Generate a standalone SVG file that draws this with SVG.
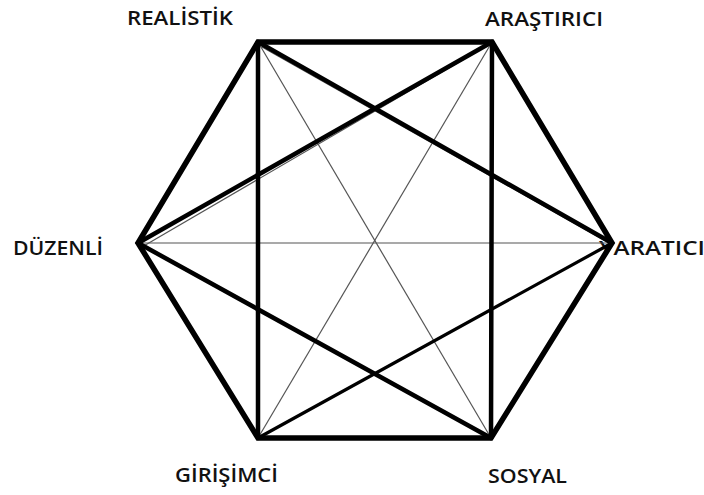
<svg xmlns="http://www.w3.org/2000/svg" width="704" height="495" viewBox="0 0 704 495">
<style>
.lbl{font-family:"Open Sans","Liberation Sans",sans-serif;font-size:20px;font-weight:600;fill:#111}
.hex{stroke:#000;stroke-width:5.5;stroke-linecap:round;fill:none}
.thk{stroke:#000;stroke-width:4.5;stroke-linecap:round}
.med{stroke:#000;stroke-width:3.2;stroke-linecap:round}
.thn{stroke:#555;stroke-width:1.2}
</style>
<rect width="704" height="495" fill="#fff"/>
<g id="realistik"><text class="lbl" x="127" y="25" textLength="106" lengthAdjust="spacingAndGlyphs">REALİSTİK</text></g>
<g id="arastirici"><text class="lbl" x="485" y="26" textLength="118" lengthAdjust="spacingAndGlyphs">ARAŞTIRICI</text></g>
<g id="duzenli"><text class="lbl" x="13" y="255" textLength="90" lengthAdjust="spacingAndGlyphs">DÜZENLİ</text></g>
<g id="yaratici"><text class="lbl" x="599" y="255" textLength="106" lengthAdjust="spacingAndGlyphs">YARATICI</text></g>
<g id="girisimci"><text class="lbl" x="175" y="482" textLength="103" lengthAdjust="spacingAndGlyphs">GİRİŞİMCİ</text></g>
<g id="sosyal"><text class="lbl" x="488" y="483" textLength="79" lengthAdjust="spacingAndGlyphs">SOSYAL</text></g>
<g id="connectors">
<line class="thn" x1="138" y1="243" x2="612" y2="243"/>
<line class="thn" x1="258" y1="42" x2="491" y2="438"/>
<line class="thn" x1="492" y1="42" x2="258" y2="438"/>
<line class="thn" x1="262" y1="47" x2="611" y2="244"/>
<line class="thn" x1="490" y1="44" x2="142" y2="247"/>
<line class="thk" x1="258" y1="42" x2="612" y2="243"/>
<line class="thk" x1="492" y1="42" x2="138" y2="243"/>
<line class="thk" x1="138" y1="243" x2="491" y2="438"/>
<line class="med" x1="258" y1="438" x2="612" y2="243"/>
<line class="thk" x1="258" y1="42" x2="258" y2="438"/>
<line class="thk" x1="492" y1="42" x2="491" y2="438"/>
<polygon class="hex" points="258,42 492,42 612,243 491,438 258,438 138,243"/>
</g>
</svg>
